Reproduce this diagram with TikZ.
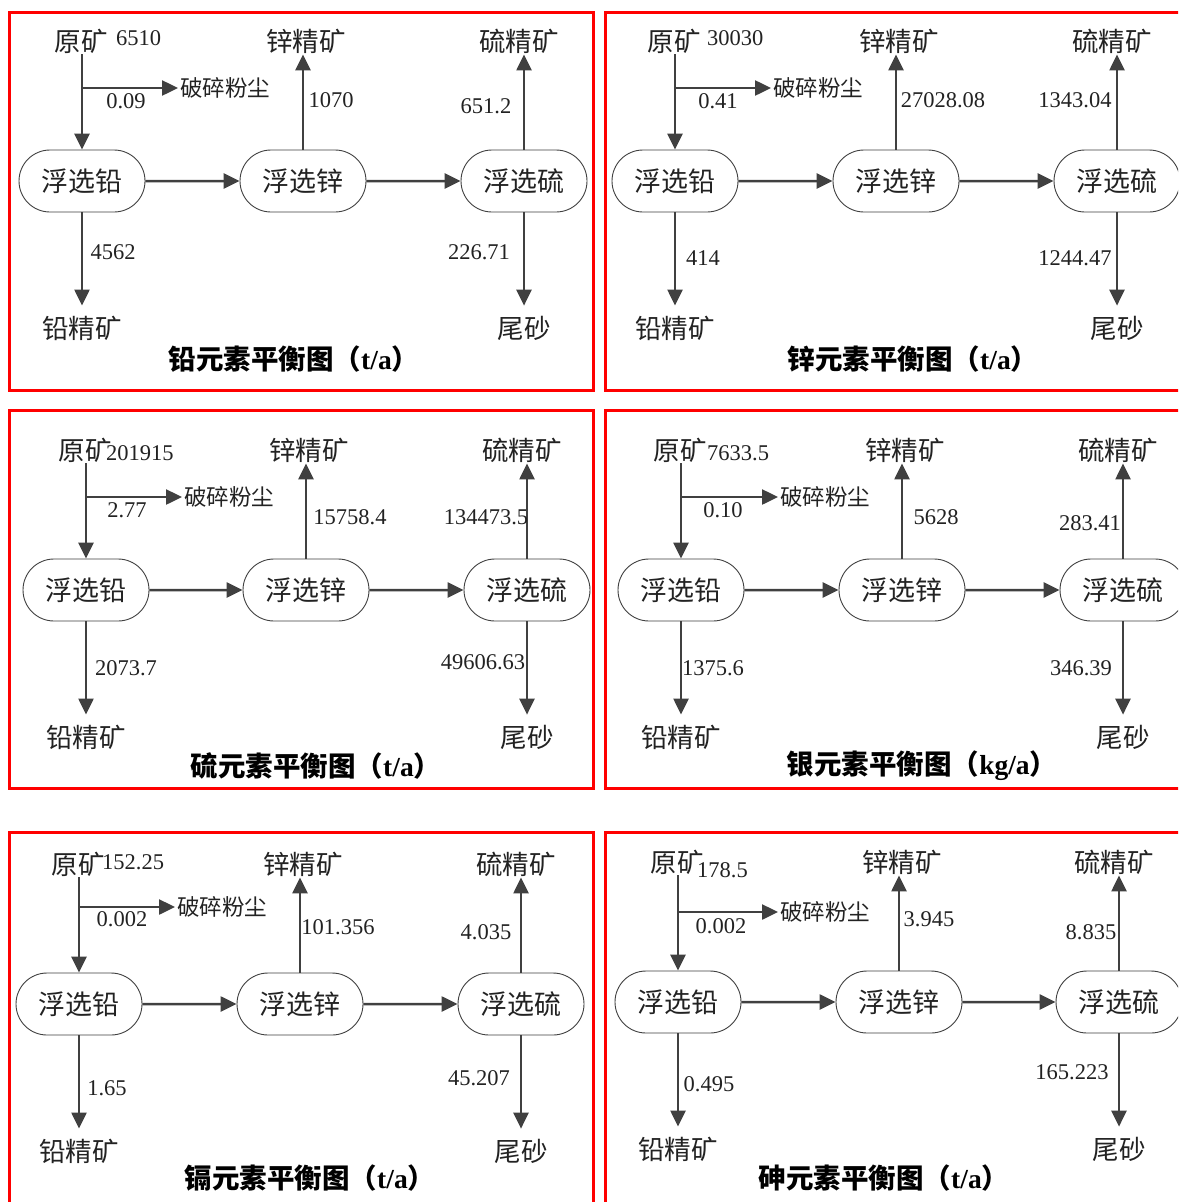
\documentclass[tikz,border=0pt]{standalone}
\usepackage{fontspec}
\setmainfont{Liberation Serif}
\newfontfamily\cjk{Noto Sans CJK SC}
\usetikzlibrary{arrows.meta,shapes.misc}
\definecolor{arrgray}{HTML}{404040}
\definecolor{redb}{HTML}{FF0000}
\definecolor{txt}{HTML}{222222}
\tikzset{
 proc/.style={rounded rectangle, draw=arrgray, line width=0.9pt, minimum width=126pt, minimum height=62pt, inner sep=0pt, font=\cjk\fontsize{27}{32}\selectfont, text=txt},
 lab/.style={inner sep=1pt, font=\cjk\fontsize{26.5}{32}\selectfont, text=txt},
 dust/.style={inner sep=2pt, font=\cjk\fontsize{22.5}{27}\selectfont, text=txt, anchor=west},
 num/.style={inner sep=0pt, font=\fontsize{22.5}{27}\selectfont, text=txt},
 arr/.style={draw=arrgray, line width=2.5pt, -{Triangle[length=16pt,width=15pt]}},
 panelbox/.style={draw=redb, line width=3pt},
 ptitle/.style={inner sep=0pt, font=\fontsize{27.5}{32}\selectfont\bfseries, text=black},
}
\newcommand{\mytitle}[2]{{\cjk\bfseries #1（}{\bfseries #2}{\cjk\bfseries ）}}
\newcommand{\flowpanel}[7]{%
 \node[proc] (#1pb) at (#2,#5) {浮选铅};
 \node[proc] (#1zn) at (#3,#5) {浮选锌};
 \node[proc] (#1su) at (#4,#5) {浮选硫};
 \node[lab] (#1ore) at ({#2-1},{#5-140}) {原矿};
 \node[lab] (#1znc) at ({#3+3},{#5-140}) {锌精矿};
 \node[lab] (#1suc) at ({#4-5},{#5-140}) {硫精矿};
 \node[lab] (#1pbc) at (#2,{#5+147}) {铅精矿};
 \node[lab] (#1tail) at (#4,{#5+147}) {尾砂};
 \coordinate (#1br) at (#2,{#5+#6});
 \node[dust] (#1dust) at ({#2+#7},{#5+#6}) {破碎粉尘};
 \draw[arr] (#1ore.south -| #1pb.north) -- (#1pb.north);
 \draw[arr] (#1br) -- (#1dust.west);
 \draw[arr] (#1pb) -- (#1zn);
 \draw[arr] (#1zn) -- (#1su);
 \draw[arr] (#1zn.north) -- (#1zn.north |- #1znc.south);
 \draw[arr] (#1su.north) -- (#1su.north |- #1suc.south);
 \draw[arr] (#1pb.south) -- ([yshift=9pt]#1pb.south |- #1pbc.north);
 \draw[arr] (#1su.south) -- ([yshift=9pt]#1su.south |- #1tail.north);
}
\begin{document}
\begin{tikzpicture}[x=1pt,y=-1pt]
\useasboundingbox (0,0) rectangle (1178,1202);
\fill[white] (0,0) rectangle (1178,1202);
\clip (0,0) rectangle (1178,1202);
% panel frames
\draw[panelbox] (9,12) rectangle (593,390);
\draw[panelbox] (605,12) rectangle (1190,390);
\draw[panelbox] (9,410) rectangle (593,788);
\draw[panelbox] (605,410) rectangle (1190,788);
\draw[panelbox] (9,832) rectangle (593,1215);
\draw[panelbox] (605,832) rectangle (1190,1215);
% flows
\flowpanel{A}{82}{303}{524}{181}{-93}{96}
\flowpanel{B}{675}{896}{1117}{181}{-93}{96}
\flowpanel{C}{86}{306}{527}{590}{-93}{96}
\flowpanel{D}{681}{902}{1123}{590}{-93}{97}
\flowpanel{E}{79}{300}{521}{1004}{-97}{96}
\flowpanel{F}{678}{899}{1119}{1002}{-90}{100}
% panel 1 lead
\node[num,anchor=west] (Aon) at (116,38) {6510};
\node[num] (Ad) at (126,101) {0.09};
\node[num] (Aznn) at (331,100) {1070};
\node[num] (Asun) at (486,106) {651.2};
\node[num] (Apbn) at (113,252) {4562};
\node[num] (Atn) at (479,252) {226.71};
\node[ptitle] (At) at (294,359) {\mytitle{铅元素平衡图}{t/a}};
% panel 2 zinc
\node[num,anchor=west] (Bon) at (707,38) {30030};
\node[num] (Bd) at (718,101) {0.41};
\node[num] (Bznn) at (943,100) {27028.08};
\node[num] (Bsun) at (1075,100) {1343.04};
\node[num] (Bpbn) at (703,258) {414};
\node[num] (Btn) at (1075,258) {1244.47};
\node[ptitle] (Bt) at (913,359) {\mytitle{锌元素平衡图}{t/a}};
% panel 3 sulfur
\node[num,anchor=west] (Con) at (106,453) {201915};
\node[num] (Cd) at (127,510) {2.77};
\node[num] (Cznn) at (350,517) {15758.4};
\node[num] (Csun) at (486,517) {134473.5};
\node[num] (Cpbn) at (126,668) {2073.7};
\node[num] (Ctn) at (483,662) {49606.63};
\node[ptitle] (Ct) at (316,766) {\mytitle{硫元素平衡图}{t/a}};
% panel 4 silver
\node[num,anchor=west] (Don) at (707,453) {7633.5};
\node[num] (Dd) at (723,510) {0.10};
\node[num] (Dznn) at (936,517) {5628};
\node[num] (Dsun) at (1090,523) {283.41};
\node[num] (Dpbn) at (713,668) {1375.6};
\node[num] (Dtn) at (1081,668) {346.39};
\node[ptitle] (Dt) at (922,766) {\mytitle{银元素平衡图}{kg/a}};
% panel 5 cadmium
\node[num,anchor=west] (Eon) at (102,862) {152.25};
\node[num] (Ed) at (122,919) {0.002};
\node[num] (Eznn) at (338,927) {101.356};
\node[num] (Esun) at (486,932) {4.035};
\node[num] (Epbn) at (107,1088) {1.65};
\node[num] (Etn) at (479,1078) {45.207};
\node[ptitle] (Et) at (310,1178) {\mytitle{镉元素平衡图}{t/a}};
% panel 6 arsenic
\node[num,anchor=west] (Fon) at (697,870) {178.5};
\node[num] (Fd) at (721,926) {0.002};
\node[num] (Fznn) at (929,919) {3.945};
\node[num] (Fsun) at (1091,932) {8.835};
\node[num] (Fpbn) at (709,1084) {0.495};
\node[num] (Ftn) at (1072,1072) {165.223};
\node[ptitle] (Ft) at (884,1178) {\mytitle{砷元素平衡图}{t/a}};
\end{tikzpicture}
\end{document}
